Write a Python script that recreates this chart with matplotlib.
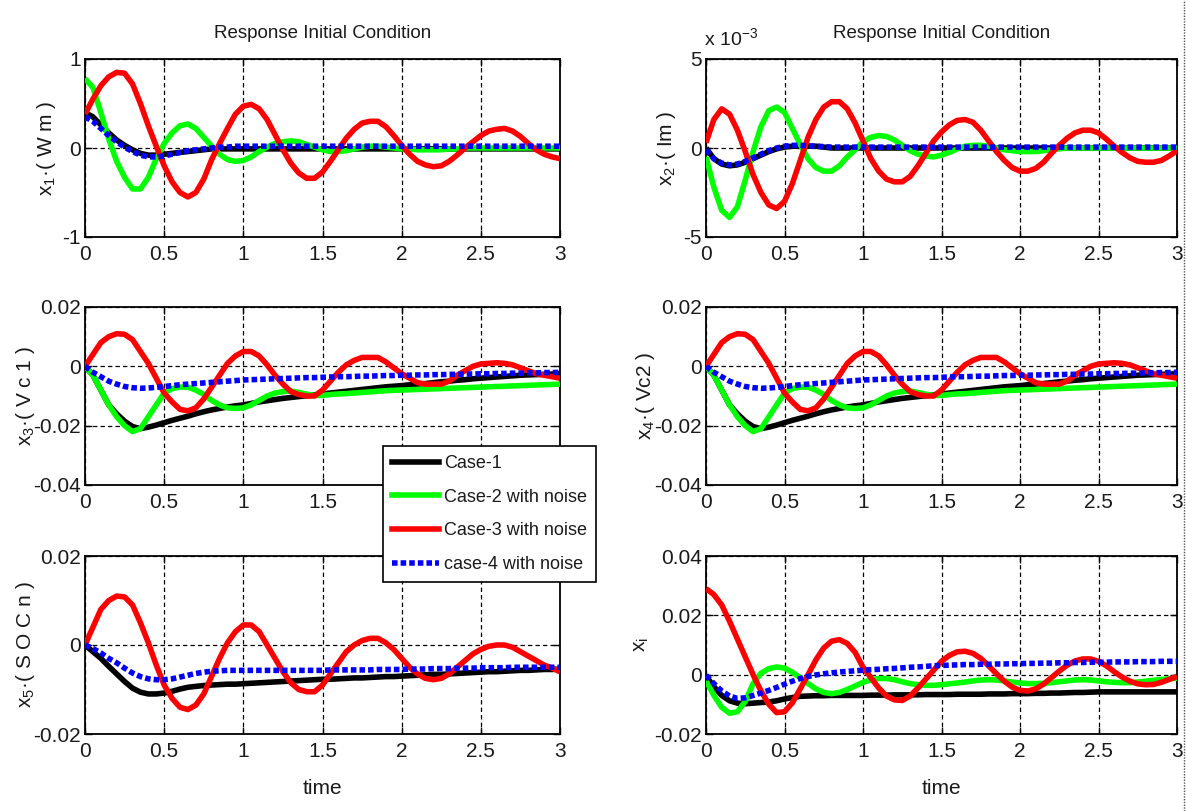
import numpy as np
import matplotlib
matplotlib.use("Agg")
import matplotlib.pyplot as plt
from matplotlib.lines import Line2D

plt.rcParams['font.family'] = ['Liberation Sans Narrow', 'Liberation Sans', 'DejaVu Sans']
plt.rcParams['mathtext.fontset'] = 'custom'
plt.rcParams['mathtext.rm'] = 'Liberation Sans'
plt.rcParams['mathtext.it'] = 'Liberation Sans'
plt.rcParams['mathtext.default'] = 'regular'

# ---------------- data ----------------
t = np.round(np.arange(61) * 0.05, 2)  # sampling times 0 .. 3 s

labels = ["Case-1", "Case-2 with noise", "Case-3 with noise", "case-4 with noise"]

# panel 1 : x1 (W m)
black1 = [0.40,0.35,0.26,0.17,0.09,0.03,-0.02,-0.06,-0.08,-0.08,
          -0.07,-0.06,-0.05,-0.04,-0.03,-0.02,-0.01,-0.01,-0.01,-0.01,
          -0.01,-0.01,-0.01,-0.01,-0.01,-0.01,-0.01,-0.01,-0.01,-0.01,
          -0.01,-0.01,-0.01,-0.01,-0.01,-0.01,-0.01,-0.01,-0.01,-0.01,
          -0.01,-0.01,-0.01,-0.01,-0.01,-0.01,-0.01,-0.01,-0.01,-0.01,
          -0.01,-0.01,-0.01,-0.01,-0.01,-0.01,-0.01,-0.01,-0.01,-0.01,
          -0.01]
green1 = [0.78,0.68,0.40,0.10,-0.15,-0.33,-0.46,-0.46,-0.33,-0.12,
          0.05,0.17,0.25,0.27,0.22,0.12,0.02,-0.07,-0.13,-0.15,
          -0.14,-0.10,-0.04,0.01,0.05,0.07,0.08,0.07,0.04,0.01,
          -0.02,-0.04,-0.04,-0.03,-0.01,0.01,0.02,0.02,0.01,0.00,
          -0.01,-0.01,-0.02,-0.02,-0.02,-0.02,-0.01,-0.01,0.00,0.00,
          0.00,0.00,0.00,0.00,0.00,0.00,0.00,0.00,0.00,0.00,
          0.00]
red1 = [0.38,0.55,0.70,0.80,0.85,0.84,0.72,0.50,0.25,0.02,
        -0.20,-0.38,-0.50,-0.55,-0.50,-0.35,-0.13,0.05,0.22,0.38,
        0.47,0.49,0.44,0.32,0.15,-0.02,-0.17,-0.28,-0.34,-0.34,
        -0.27,-0.15,-0.02,0.11,0.21,0.28,0.30,0.30,0.24,0.14,
        0.03,-0.07,-0.15,-0.19,-0.21,-0.20,-0.15,-0.08,0.00,0.07,
        0.14,0.19,0.21,0.22,0.19,0.13,0.05,-0.02,-0.07,-0.10,
        -0.12]
blue1 = [0.35,0.30,0.22,0.14,0.07,0.01,-0.04,-0.08,-0.10,-0.10,
         -0.09,-0.07,-0.05,-0.03,-0.02,-0.01,0.00,0.01,0.01,0.02,
         0.02,0.02,0.02,0.02,0.02,0.02,0.02,0.02,0.02,0.02,
         0.02,0.02,0.02,0.02,0.02,0.02,0.02,0.02,0.02,0.02,
         0.02,0.02,0.02,0.02,0.02,0.02,0.02,0.02,0.02,0.02,
         0.02,0.02,0.02,0.02,0.02,0.02,0.02,0.02,0.02,0.02,
         0.02]

# panel 2 : x2 (Im), values in units of 1e-3
black2 = [0.0,-0.6,-0.9,-1.0,-0.95,-0.8,-0.6,-0.4,-0.2,-0.05,
          0.05,0.1,0.1,0.1,0.1,0.05,0.0,0.0,0.0,0.0,
          0.0,0.0,0.0,0.0,0.0,0.0,0.0,0.0,0.0,0.0,
          0.0,0.0,0.0,0.0,0.0,0.0,0.0,0.0,0.0,0.0,
          0.0,0.0,0.0,0.0,0.0,0.0,0.0,0.0,0.0,0.0,
          0.0,0.0,0.0,0.0,0.0,0.0,0.0,0.0,0.0,0.0,
          0.0]
green2 = [-0.5,-2.2,-3.5,-3.9,-3.3,-1.8,-0.2,1.2,2.1,2.3,
          2.0,1.1,0.2,-0.6,-1.1,-1.3,-1.3,-1.0,-0.5,-0.1,
          0.35,0.6,0.7,0.65,0.45,0.15,-0.15,-0.35,-0.45,-0.5,
          -0.4,-0.25,-0.05,0.1,0.15,0.15,0.1,0.0,-0.1,-0.15,
          -0.2,-0.2,-0.2,-0.15,-0.1,-0.05,0.0,0.0,0.0,0.0,
          0.0,0.0,0.0,0.0,0.0,0.0,0.0,0.0,0.0,0.0,
          0.0]
red2 = [0.3,1.6,2.2,1.9,1.0,-0.2,-1.5,-2.5,-3.2,-3.4,
        -3.0,-2.0,-0.7,0.6,1.6,2.3,2.6,2.6,2.2,1.4,
        0.4,-0.6,-1.3,-1.75,-1.9,-1.9,-1.6,-1.0,-0.3,0.4,
        0.9,1.3,1.55,1.6,1.45,1.0,0.4,-0.2,-0.7,-1.1,
        -1.3,-1.3,-1.15,-0.8,-0.3,0.15,0.55,0.85,1.0,1.0,
        0.85,0.5,0.1,-0.25,-0.55,-0.75,-0.8,-0.8,-0.7,-0.45,
        -0.15]
blue2 = [-0.1,-0.6,-0.85,-0.95,-0.9,-0.75,-0.55,-0.35,-0.15,0.0,
         0.1,0.15,0.15,0.12,0.1,0.08,0.05,0.05,0.05,0.05,
         0.05,0.05,0.05,0.05,0.05,0.05,0.05,0.05,0.05,0.05,
         0.05,0.05,0.05,0.05,0.05,0.05,0.05,0.05,0.05,0.05,
         0.05,0.05,0.05,0.05,0.05,0.05,0.05,0.05,0.05,0.05,
         0.05,0.05,0.05,0.05,0.05,0.05,0.05,0.05,0.05,0.05,
         0.05]

# panel 3 : x3 (Vc1)
black3 = [0,-0.003,-0.008,-0.013,-0.016,-0.0185,-0.0203,-0.021,-0.0205,-0.0198,
          -0.019,-0.0182,-0.0175,-0.0168,-0.016,-0.0153,-0.0147,-0.0142,-0.0137,-0.0133,
          -0.013,-0.0125,-0.012,-0.0116,-0.0112,-0.0108,-0.0105,-0.0102,-0.0099,-0.0096,
          -0.0093,-0.009,-0.0087,-0.0084,-0.0081,-0.0078,-0.0075,-0.0072,-0.0069,-0.0067,
          -0.0065,-0.0062,-0.006,-0.0058,-0.0055,-0.0052,-0.005,-0.0047,-0.0045,-0.0042,
          -0.004,-0.0038,-0.0036,-0.0034,-0.0032,-0.003,-0.0029,-0.0028,-0.0027,-0.0026,
          -0.0025]
green3 = [0,-0.003,-0.008,-0.013,-0.017,-0.020,-0.022,-0.021,-0.017,-0.013,
          -0.009,-0.0075,-0.007,-0.007,-0.008,-0.0095,-0.0115,-0.013,-0.014,-0.0142,
          -0.014,-0.013,-0.0115,-0.010,-0.009,-0.0085,-0.0083,-0.0088,-0.0094,-0.0098,
          -0.0098,-0.0095,-0.0093,-0.0092,-0.009,-0.0088,-0.0086,-0.0084,-0.0082,-0.0081,
          -0.008,-0.0079,-0.0078,-0.0077,-0.0076,-0.0075,-0.0074,-0.0073,-0.0072,-0.0071,
          -0.007,-0.0069,-0.0068,-0.0067,-0.0066,-0.0065,-0.0064,-0.0063,-0.0062,-0.0061,
          -0.006]
red3 = [0,0.004,0.008,0.010,0.011,0.0108,0.009,0.005,0.001,-0.004,
        -0.009,-0.012,-0.0145,-0.015,-0.014,-0.011,-0.007,-0.003,0.001,0.0035,
        0.005,0.005,0.0035,0.0005,-0.003,-0.006,-0.0085,-0.0095,-0.010,-0.010,
        -0.008,-0.005,-0.002,0.0005,0.002,0.003,0.003,0.003,0.0015,-0.0005,
        -0.0025,-0.004,-0.0055,-0.006,-0.006,-0.006,-0.005,-0.003,-0.0015,0.0,
        0.0008,0.001,0.0012,0.001,0.0005,-0.0005,-0.0015,-0.0025,-0.003,-0.0035,
        -0.004]
blue3 = [0,-0.002,-0.0035,-0.005,-0.006,-0.0068,-0.0072,-0.0074,-0.0073,-0.0071,
         -0.0068,-0.0065,-0.0062,-0.006,-0.0058,-0.0056,-0.0054,-0.0052,-0.005,-0.0048,
         -0.0046,-0.0045,-0.0044,-0.0043,-0.0042,-0.0041,-0.004,-0.0039,-0.0038,-0.0038,
         -0.0037,-0.0036,-0.0035,-0.0035,-0.0034,-0.0033,-0.0033,-0.0032,-0.0031,-0.0031,
         -0.003,-0.003,-0.0029,-0.0029,-0.0028,-0.0028,-0.0027,-0.0027,-0.0026,-0.0026,
         -0.0025,-0.0025,-0.0024,-0.0024,-0.0023,-0.0023,-0.0022,-0.0022,-0.0021,-0.0021,
         -0.002]

# panel 4 : x4 (Vc2) -- reads the same as panel 3
black4 = list(black3)
green4 = list(green3)
red4 = list(red3)
blue4 = list(blue3)

# panel 5 : x5 (SOCn) -- no green trace visible
black5 = [0,-0.0015,-0.003,-0.0048,-0.0065,-0.0082,-0.0097,-0.0106,-0.011,-0.011,
          -0.0108,-0.0104,-0.0099,-0.0095,-0.0093,-0.0091,-0.009,-0.0089,-0.0088,-0.0088,
          -0.0087,-0.0086,-0.0085,-0.0084,-0.0083,-0.0082,-0.0081,-0.008,-0.0079,-0.0078,
          -0.0077,-0.0077,-0.0076,-0.0075,-0.0074,-0.0074,-0.0073,-0.0072,-0.0071,-0.0071,
          -0.007,-0.0069,-0.0068,-0.0067,-0.0066,-0.0066,-0.0065,-0.0064,-0.0063,-0.0062,
          -0.0061,-0.006,-0.006,-0.0059,-0.0058,-0.0057,-0.0057,-0.0056,-0.0055,-0.0055,
          -0.0054]
red5 = [0,0.004,0.008,0.010,0.011,0.0108,0.009,0.005,0.0005,-0.0045,
        -0.009,-0.012,-0.014,-0.0145,-0.0135,-0.011,-0.007,-0.003,0.0005,0.003,
        0.0045,0.0045,0.003,0.0,-0.003,-0.006,-0.0085,-0.010,-0.0105,-0.0105,
        -0.009,-0.0065,-0.004,-0.0015,0.0,0.001,0.0015,0.0015,0.0005,-0.001,
        -0.003,-0.005,-0.0065,-0.0075,-0.0078,-0.0075,-0.0065,-0.005,-0.0035,-0.002,
        -0.001,-0.0003,0.0,0.0,-0.0005,-0.0015,-0.0025,-0.0035,-0.0045,-0.0052,
        -0.006]
blue5 = [0,-0.0008,-0.0018,-0.003,-0.004,-0.0052,-0.0063,-0.0071,-0.0076,-0.0078,
         -0.0078,-0.0076,-0.0072,-0.0068,-0.0064,-0.0061,-0.0059,-0.0058,-0.0057,-0.0057,
         -0.0057,-0.0057,-0.0057,-0.0057,-0.0057,-0.0057,-0.0057,-0.0057,-0.0057,-0.0057,
         -0.0057,-0.0056,-0.0056,-0.0056,-0.0056,-0.0056,-0.0056,-0.0055,-0.0055,-0.0055,
         -0.0055,-0.0054,-0.0054,-0.0054,-0.0053,-0.0053,-0.0053,-0.0052,-0.0052,-0.0052,
         -0.0051,-0.0051,-0.0051,-0.0051,-0.005,-0.005,-0.005,-0.005,-0.005,-0.005,
         -0.005]

# panel 6 : xi
black6 = [-0.0005,-0.004,-0.007,-0.0088,-0.0096,-0.0098,-0.0096,-0.0094,-0.0092,-0.0088,
          -0.0082,-0.0077,-0.0073,-0.0072,-0.0071,-0.0071,-0.007,-0.007,-0.007,-0.007,
          -0.007,-0.0069,-0.0069,-0.0069,-0.0068,-0.0068,-0.0068,-0.0068,-0.0067,-0.0067,
          -0.0067,-0.0067,-0.0066,-0.0066,-0.0066,-0.0066,-0.0065,-0.0065,-0.0065,-0.0064,
          -0.0064,-0.0064,-0.0063,-0.0063,-0.0062,-0.0062,-0.0061,-0.006,-0.006,-0.0059,
          -0.0058,-0.0058,-0.0058,-0.0058,-0.0058,-0.0058,-0.0058,-0.0058,-0.0058,-0.0058,
          -0.0058]
green6 = [-0.002,-0.007,-0.011,-0.013,-0.0125,-0.009,-0.003,0.0005,0.002,0.0026,
          0.0022,0.0008,-0.001,-0.003,-0.0048,-0.006,-0.0064,-0.006,-0.005,-0.0038,
          -0.0026,-0.0017,-0.0013,-0.0013,-0.0017,-0.0024,-0.003,-0.0034,-0.0036,-0.0036,
          -0.0034,-0.0031,-0.0028,-0.0025,-0.0021,-0.0018,-0.0017,-0.0018,-0.0021,-0.0025,
          -0.0028,-0.003,-0.003,-0.0029,-0.0027,-0.0024,-0.0021,-0.0018,-0.0017,-0.0018,
          -0.0021,-0.0024,-0.0026,-0.0027,-0.0027,-0.0025,-0.0022,-0.0019,-0.0016,-0.0014,
          -0.0012]
red6 = [0.029,0.027,0.0235,0.018,0.012,0.006,0.0,-0.0055,-0.010,-0.0128,
        -0.0125,-0.0095,-0.0048,0.0,0.005,0.009,0.0113,0.0118,0.0105,0.0075,
        0.0025,-0.001,-0.0045,-0.0072,-0.0085,-0.0087,-0.0072,-0.0045,-0.0015,0.0015,
        0.0045,0.0065,0.0077,0.0079,0.0072,0.0055,0.003,0.0003,-0.0022,-0.0042,
        -0.0053,-0.0055,-0.0048,-0.0032,-0.001,0.0012,0.0032,0.0046,0.0053,0.0053,
        0.0045,0.003,0.001,-0.0008,-0.0022,-0.0031,-0.0034,-0.0033,-0.0026,-0.0016,
        -0.0006]
blue6 = [-0.0002,-0.003,-0.0055,-0.0072,-0.008,-0.0078,-0.007,-0.0062,-0.0053,-0.0043,
         -0.0032,-0.0022,-0.0013,-0.0006,-0.0001,0.0003,0.0006,0.0009,0.0011,0.0013,
         0.0015,0.0017,0.0018,0.002,0.0021,0.0023,0.0025,0.0026,0.0028,0.003,
         0.0031,0.0032,0.0033,0.0034,0.0034,0.0035,0.0035,0.0036,0.0036,0.0037,
         0.0037,0.0038,0.0038,0.0039,0.0039,0.004,0.004,0.0041,0.0041,0.0042,
         0.0042,0.0042,0.0043,0.0043,0.0043,0.0044,0.0044,0.0044,0.0045,0.0045,
         0.0045]

xtick_vals = [0, 0.5, 1, 1.5, 2, 2.5, 3]
xtick_labels = ["0", "0.5", "1", "1.5", "2", "2.5", "3"]
# the legend box hides the last three x labels of the x3 panel
xtick_labels_hidden = ["0", "0.5", "1", "1.5", "", "", ""]

panels = [
    dict(series=[black1, green1, red1, blue1], ylim=(-1, 1), yticks=[-1, 0, 1],
         yticklabels=["-1", "0", "1"], ylabel="x$_1$·( W m )", title="Response Initial Condition",
         xlabels=xtick_labels),
    dict(series=[black2, green2, red2, blue2], ylim=(-5, 5), yticks=[-5, 0, 5],
         yticklabels=["-5", "0", "5"], ylabel="x$_2$·( Im )", title="Response Initial Condition",
         xlabels=xtick_labels),
    dict(series=[black3, green3, red3, blue3], ylim=(-0.04, 0.02), yticks=[-0.04, -0.02, 0, 0.02],
         yticklabels=["-0.04", "-0.02", "0", "0.02"], ylabel="x$_3$·( V c 1 )", title=None,
         xlabels=xtick_labels_hidden),
    dict(series=[black4, green4, red4, blue4], ylim=(-0.04, 0.02), yticks=[-0.04, -0.02, 0, 0.02],
         yticklabels=["-0.04", "-0.02", "0", "0.02"], ylabel="x$_4$·( Vc2 )", title=None,
         xlabels=xtick_labels),
    dict(series=[black5, None, red5, blue5], ylim=(-0.02, 0.02), yticks=[-0.02, 0, 0.02],
         yticklabels=["-0.02", "0", "0.02"], ylabel="x$_5$·( S O C n )", title=None,
         xlabels=xtick_labels),
    dict(series=[black6, green6, red6, blue6], ylim=(-0.02, 0.04), yticks=[-0.02, 0, 0.02, 0.04],
         yticklabels=["-0.02", "0", "0.02", "0.04"], ylabel="x$_i$", title=None,
         xlabels=xtick_labels),
]

colors = ["#000000", "#00ff00", "#ff0000", "#0000ff"]
styles = ["-", "-", "-", (0, (1.0, 0.55))]
widths = [4.0, 4.0, 4.0, 4.0]

W, H = 1186, 811
fig = plt.figure(figsize=(W / 100, H / 100), dpi=100)

col_x = [(85, 560), (706, 1177)]
row_y = [(59, 237), (307, 485), (556, 734)]
ylabel_x = [58, 678, 37, 657, 37, 651]   # right edge of rotated label, pixels from left
txtc = "#1a1a1a"

axes = []
for i, p in enumerate(panels):
    r, c = divmod(i, 2)
    x0, x1 = col_x[c]
    y0, y1 = row_y[r]
    ax = fig.add_axes([x0 / W, 1 - y1 / H, (x1 - x0) / W, (y1 - y0) / H])
    for k, s in enumerate(p["series"]):
        if s is None:
            continue
        ax.plot(t, s, color=colors[k], ls=styles[k], lw=widths[k], solid_capstyle="butt",
                dash_capstyle="butt", zorder=3 + k)
    ax.set_xlim(0, 3)
    ax.set_ylim(*p["ylim"])
    ax.set_xticks(xtick_vals)
    ax.set_xticklabels(p["xlabels"])
    ax.set_yticks(p["yticks"])
    ax.set_yticklabels(p["yticklabels"])
    ax.grid(True, color="black", ls=(0, (3.5, 2.5)), lw=0.9, zorder=1)
    ax.set_axisbelow(True)
    ax.tick_params(direction="in", length=5, width=1, top=True, right=True,
                   labelsize=15, colors="black", labelcolor=txtc)
    ax.tick_params(axis="y", pad=3)
    ax.tick_params(axis="x", pad=6)
    for sp in ax.spines.values():
        sp.set_linewidth(1.3)
        sp.set_color("black")
    ax.set_ylabel(p["ylabel"], fontsize=15, color=txtc)
    ax.yaxis.set_label_coords((ylabel_x[i] - x0) / (x1 - x0), 0.5)
    if p["title"]:
        ax.set_title(p["title"], fontsize=13.5, color=txtc, pad=15)
    if r == 2:
        ax.set_xlabel("time", fontsize=15, color=txtc, labelpad=13)
    axes.append(ax)

# exponent label of the x2 panel
fig.text(704 / W, 1 - 45 / H, "x 10$^{-3}$", fontsize=14, color=txtc, ha="left", va="baseline")

# legend
handles = [Line2D([], [], color=colors[k], ls=styles[k], lw=widths[k]) for k in range(4)]
fig.legend(handles, labels, loc="upper left", bbox_to_anchor=(383 / W, 1 - 446 / H),
           bbox_transform=fig.transFigure, frameon=True, fancybox=False, framealpha=1,
           edgecolor="black", fontsize=13, handlelength=2.6, handletextpad=0.3,
           labelspacing=0.92, borderpad=0.5, borderaxespad=0)
leg = fig.legends[0]
leg.get_frame().set_linewidth(1.2)
for txt in leg.get_texts():
    txt.set_color(txtc)

# dotted page border at right
fig.add_artist(Line2D([1183.5 / W, 1183.5 / W], [0, 1], transform=fig.transFigure,
                      color="#555555", lw=1, ls=(0, (1, 1))))

fig.savefig("out.png", dpi=100)
